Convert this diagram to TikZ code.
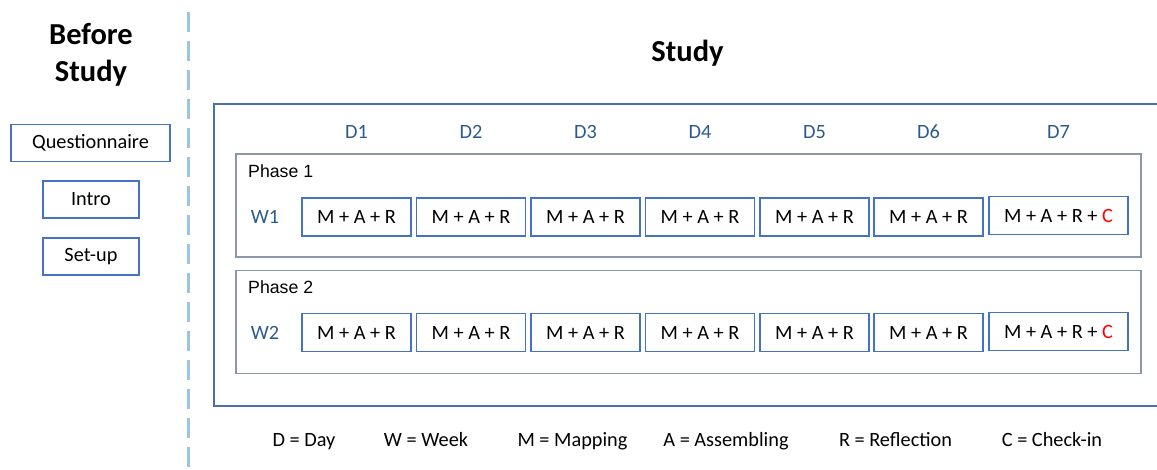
\documentclass[tikz,border=0pt]{standalone}
\usepackage{fontspec}
\setmainfont{Carlito}
\newfontfamily\arialf{Liberation Sans}
\definecolor{boxblue}{HTML}{4472C4}
\definecolor{outerblue}{HTML}{4A6FB0}
\definecolor{phasegray}{HTML}{8C96A8}
\definecolor{labelblue}{HTML}{2B5A8C}
\definecolor{dashblue}{HTML}{9DC3E6}
\definecolor{chkred}{HTML}{FF0000}
\begin{document}
\begin{tikzpicture}[x=1pt,y=-1pt,
  daybox/.style={draw=boxblue, line width=1.6pt, minimum width=109pt, minimum height=38pt, inner sep=0pt, font=\fontsize{20.3}{24}\selectfont},
  lastbox/.style={daybox, minimum width=139pt},
  prebox/.style={draw=boxblue, line width=1.6pt, minimum height=37pt, inner sep=0pt, font=\fontsize{20.3}{24}\selectfont},
  phasebox/.style={draw=phasegray, line width=1.1pt, minimum width=905pt, minimum height=103pt, inner sep=0pt},
  phaselabel/.style={anchor=base west, inner sep=0pt, font=\arialf\fontsize{17.7}{20}\selectfont},
  daylabel/.style={anchor=base, inner sep=0pt, text=labelblue, font=\fontsize{20.3}{24}\selectfont},
  legend/.style={anchor=base, inner sep=0pt, font=\fontsize{20.3}{24}\selectfont},
  heading/.style={inner sep=0pt, font=\bfseries\fontsize{30.5}{37}\selectfont, align=center}
]
\useasboundingbox (0,0) rectangle (1157,470);
% divider
\draw[dashblue, line width=3pt, dash pattern=on 20pt off 9pt] (188,12) -- (188,470);
% headings
\node[heading, anchor=base] (before1) at (91,45) {Before};
\node[heading, anchor=base] (before2) at (91,82) {Study};
\node[heading, anchor=base] (study) at (687.5,62) {Study};
% before-study boxes
\node[prebox, minimum width=159pt] (quest) at (90.5,143) {Questionnaire};
\node[prebox, minimum width=96pt] (intro) at (91,199.5) {Intro};
\node[prebox, minimum width=96pt] (setup) at (91,256.5) {Set-up};
% outer study frame (right edge lies outside the picture)
\draw[outerblue, line width=1.8pt] (1160,104) -- (214,104) -- (214,406) -- (1160,406);
% day labels
\foreach \i/\x in {1/356.5,2/471,3/585.5,4/700,5/814.5,6/928.5,7/1058.5}
  \node[daylabel] (d\i) at (\x,139) {D\i};
% phase boxes
\node[phasebox] (ph1) at (688.5,205.5) {};
\node[phasebox] (ph2) at (688.5,322) {};
\node[phaselabel] (ph1lab) at (248,178) {Phase 1};
\node[phaselabel] (ph2lab) at (248,294) {Phase 2};
\node[daylabel] (w1) at (265,224) {W1};
\node[daylabel] (w2) at (265,339.5) {W2};
% day boxes
\foreach \i/\x in {1/356.5,2/471,3/585.5,4/700,5/814.5,6/928.5} {
  \node[daybox] (a\i) at (\x,217) {M + A + R};
  \node[daybox] (b\i) at (\x,332.5) {M + A + R};
}
\node[lastbox] (a7) at (1058.5,215.5) {M + A + R + \textcolor{chkred}{C}};
\node[lastbox] (b7) at (1058.5,331.5) {M + A + R + \textcolor{chkred}{C}};
% legend
\node[legend] (lgD) at (304,446) {D = Day};
\node[legend] (lgW) at (426,446) {W = Week};
\node[legend] (lgM) at (572.5,446) {M = Mapping};
\node[legend] (lgA) at (726,446) {A = Assembling};
\node[legend] (lgR) at (895.5,446) {R = Reflection};
\node[legend] (lgC) at (1052,446) {C = Check-in};
\end{tikzpicture}
\end{document}
